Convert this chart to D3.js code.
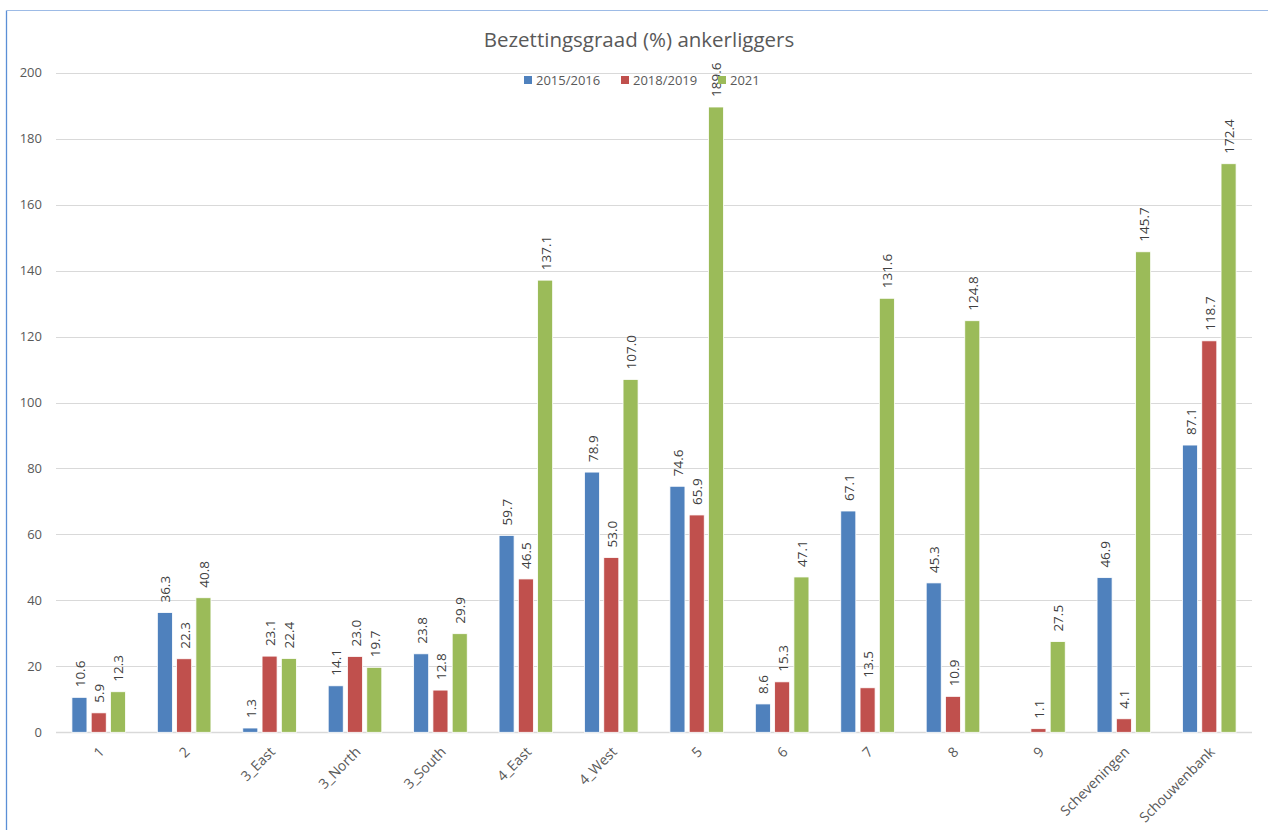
<!DOCTYPE html>
<html>
<head>
<meta charset="utf-8">
<script src="https://cdn.jsdelivr.net/npm/d3@7"></script>
<style>
  html, body { margin: 0; padding: 0; background: #fff; }
  svg { display: block; }
  text { font-family: "Open Sans", "Liberation Sans", sans-serif; }
</style>
</head>
<body>
<svg id="chart" width="1268" height="830"></svg>
<script>
// Anchor berth occupancy per area and survey period
const categories = ["1", "2", "3_East", "3_North", "3_South", "4_East", "4_West", "5", "6", "7", "8", "9", "Scheveningen", "Schouwenbank"];
const seriesNames = ["2015/2016", "2018/2019", "2021"];
const values2015 = [10.6, 36.3, 1.3, 14.1, 23.8, 59.7, 78.9, 74.6, 8.6, 67.1, 45.3, null, 46.9, 87.1];
const values2018 = [5.9, 22.3, 23.1, 23.0, 12.8, 46.5, 53.0, 65.9, 15.3, 13.5, 10.9, 1.1, 4.1, 118.7];
const values2021 = [12.3, 40.8, 22.4, 19.7, 29.9, 137.1, 107.0, 189.6, 47.1, 131.6, 124.8, 27.5, 145.7, 172.4];
const yTicks = [0, 20, 40, 60, 80, 100, 120, 140, 160, 180, 200];
const colors = ["#4F81BD", "#C0504D", "#9BBB59"];

const allSeries = [values2015, values2018, values2021];

const svg = d3.select("#chart");

// frame lines along the left and top
svg.append("line").attr("x1", 6.5).attr("x2", 6.5).attr("y1", 10.5).attr("y2", 830)
  .attr("stroke", "#5B8FD6").attr("stroke-width", 1.3);
svg.append("line").attr("x1", 6.5).attr("x2", 1268).attr("y1", 10.5).attr("y2", 10.5)
  .attr("stroke", "#9DBBE6").attr("stroke-width", 1);

const plot = { left: 56, right: 1252, top: 72.7, bottom: 732.3 };

const x = d3.scaleBand().domain(categories).range([plot.left, plot.right]).paddingInner(0).paddingOuter(0);
const x1 = d3.scaleBand().domain(seriesNames).range([-26.8, 26.8]).paddingInner(0.22).paddingOuter(0);
const y = d3.scaleLinear().domain([0, 200]).range([plot.bottom, plot.top]);

// gridlines
svg.append("g").selectAll("line").data(yTicks).join("line")
  .attr("x1", plot.left).attr("x2", plot.right)
  .attr("y1", d => Math.round(y(d)) + 0.5).attr("y2", d => Math.round(y(d)) + 0.5)
  .attr("stroke", "#D9D9D9").attr("stroke-width", d => d === 0 ? 1.5 : 1);

// y axis labels
const yAxis = d3.axisLeft(y).tickValues(yTicks).tickSize(0).tickPadding(0);
const gy = svg.append("g").attr("transform", `translate(42,0)`).call(yAxis);
gy.select(".domain").remove();
gy.selectAll("text").attr("fill", "#595959").attr("font-size", 13);

// bars
const groups = svg.append("g").selectAll("g").data(categories).join("g")
  .attr("transform", d => `translate(${x(d) + x.bandwidth() / 2},0)`);

seriesNames.forEach((s, si) => {
  groups.each(function(cat, ci) {
    const v = allSeries[si][ci];
    if (v === null) return;
    const g = d3.select(this);
    const bx = x1(s);
    const bw = x1.bandwidth();
    g.append("rect")
      .attr("x", bx).attr("width", bw)
      .attr("y", y(v)).attr("height", y(0) - y(v))
      .attr("fill", colors[si])
      .attr("stroke", "#fff").attr("stroke-width", 0.8);
    g.append("text")
      .attr("transform", `translate(${bx + bw / 2 + 5.5},${y(v) - 10}) rotate(-90)`)
      .attr("text-anchor", "start")
      .attr("font-size", 13.5)
      .attr("fill", "#404040")
      .text(v.toFixed(1));
  });
});

// category labels
svg.append("g").selectAll("text").data(categories).join("text")
  .attr("transform", d => `translate(${x(d) + x.bandwidth() / 2 + 3},${plot.bottom + 17}) rotate(-45)`)
  .attr("text-anchor", "end")
  .attr("dy", "0.35em")
  .attr("font-size", 14)
  .attr("fill", "#595959")
  .text(d => d);

// title
svg.append("text")
  .attr("x", 639).attr("y", 47)
  .attr("text-anchor", "middle")
  .attr("font-size", 20.5)
  .attr("fill", "#595959")
  .text("Bezettingsgraad (%) ankerliggers");

// legend
const legendItems = [
  { name: seriesNames[0], x: 524 },
  { name: seriesNames[1], x: 621 },
  { name: seriesNames[2], x: 718 }
];
const lg = svg.append("g").selectAll("g").data(legendItems).join("g")
  .attr("transform", d => `translate(${d.x},76)`);
lg.append("rect").attr("width", 8).attr("height", 8).attr("fill", (d, i) => colors[i]);
lg.append("text").attr("x", 12).attr("y", 4).attr("dy", "0.35em")
  .attr("font-size", 13).attr("fill", "#595959").text(d => d.name);
</script>
</body>
</html>
